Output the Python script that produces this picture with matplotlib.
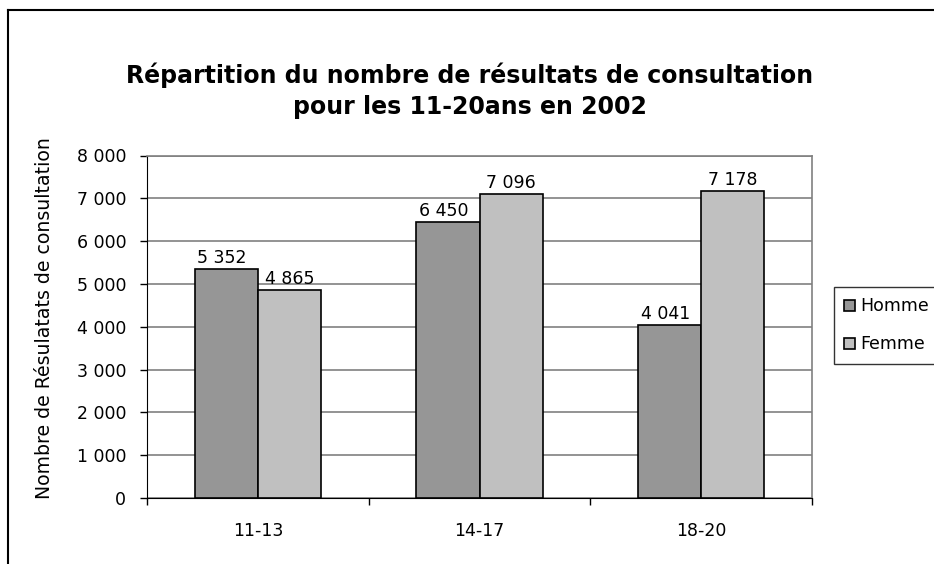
import matplotlib
matplotlib.use("Agg")
import matplotlib.pyplot as plt
import numpy as np
from matplotlib.lines import Line2D

categories = ["11-13", "14-17", "18-20"]
homme = [5352, 6450, 4041]
femme = [4865, 7096, 7178]
series_names = ["Homme", "Femme"]
yticks = [0, 1000, 2000, 3000, 4000, 5000, 6000, 7000, 8000]
title = "Répartition du nombre de résultats de consultation\npour les 11-20ans en 2002"
ylabel = "Nombre de Résulatats de consultation"

plt.rcParams['font.family'] = ['DejaVu Sans']

W, H = 934, 564
fig = plt.figure(figsize=(W / 100, H / 100), dpi=100)

# outer chart border (extends beyond image on right/bottom)
fig.add_artist(Line2D([8 / W, 8 / W], [0, 1 - 10 / H], transform=fig.transFigure,
                      color="black", lw=1.5))
fig.add_artist(Line2D([8 / W, 1], [1 - 10 / H, 1 - 10 / H], transform=fig.transFigure,
                      color="black", lw=1.5))

x0, x1, y0, y1 = 147, 812, 155.5, 498
ax = fig.add_axes([x0 / W, 1 - y1 / H, (x1 - x0) / W, (y1 - y0) / H])

x = np.arange(len(categories))
bw = 0.285
dark = "#969696"
light = "#c0c0c0"
b1 = ax.bar(x - bw / 2, homme, bw, color=dark, edgecolor="black", linewidth=1.2, zorder=3)
b2 = ax.bar(x + bw / 2, femme, bw, color=light, edgecolor="black", linewidth=1.2, zorder=3)

fs = 12.5
fmt = lambda v: f"{v:,}".replace(",", " ")
for rect, v in zip(b1, homme):
    ax.text(rect.get_x() + rect.get_width() / 2 - 0.02, v + 50, fmt(v), ha="center", va="bottom",
            fontsize=fs, zorder=4)
for rect, v in zip(b2, femme):
    ax.text(rect.get_x() + rect.get_width() / 2, v + 50, fmt(v), ha="center", va="bottom",
            fontsize=fs, zorder=4)

ax.set_xlim(-0.5, 2.5)
ax.set_ylim(0, 8000)
ax.set_yticks(yticks)
ax.set_yticklabels([fmt(v) for v in yticks], fontsize=fs)
ax.yaxis.grid(True, color="#808080", lw=1.2, zorder=0)
ax.set_axisbelow(True)

ax.set_xticks(x)
ax.set_xticklabels(categories, fontsize=fs)
ax.tick_params(axis="x", length=0, pad=17)
ax.set_xticks([-0.5, 0.5, 1.5, 2.5], minor=True)
ax.tick_params(axis="x", which="minor", length=5, direction="out", width=1)
ax.tick_params(axis="y", length=5, direction="out", width=1, pad=10)

for s in ["top", "right"]:
    ax.spines[s].set_color("#808080")
    ax.spines[s].set_linewidth(1.2)
ax.spines["left"].set_color("black")
ax.spines["bottom"].set_color("black")

ax.set_ylabel(ylabel, fontsize=13.6)
ax.yaxis.set_label_coords((45 - x0) / (x1 - x0), 1 - (318.5 - y0) / (y1 - y0))
ax.yaxis.label.set_va("center")

fig.text(470 / W, 1 - 91 / H, title, ha="center", va="center", fontsize=17,
         fontweight="bold", linespacing=1.35)

# legend
leg = fig.legend([b1, b2], series_names, loc="upper left",
                 bbox_to_anchor=(834 / W, 1 - 287 / H), fontsize=fs,
                 frameon=True, fancybox=False, shadow=False, handlelength=0.6,
                 handleheight=0.6, handletextpad=0.3, borderpad=0.6, labelspacing=1.15,
                 borderaxespad=0)
leg.get_frame().set_edgecolor("black")
leg.get_frame().set_linewidth(1.0)

fig.savefig("out.png", dpi=100)
